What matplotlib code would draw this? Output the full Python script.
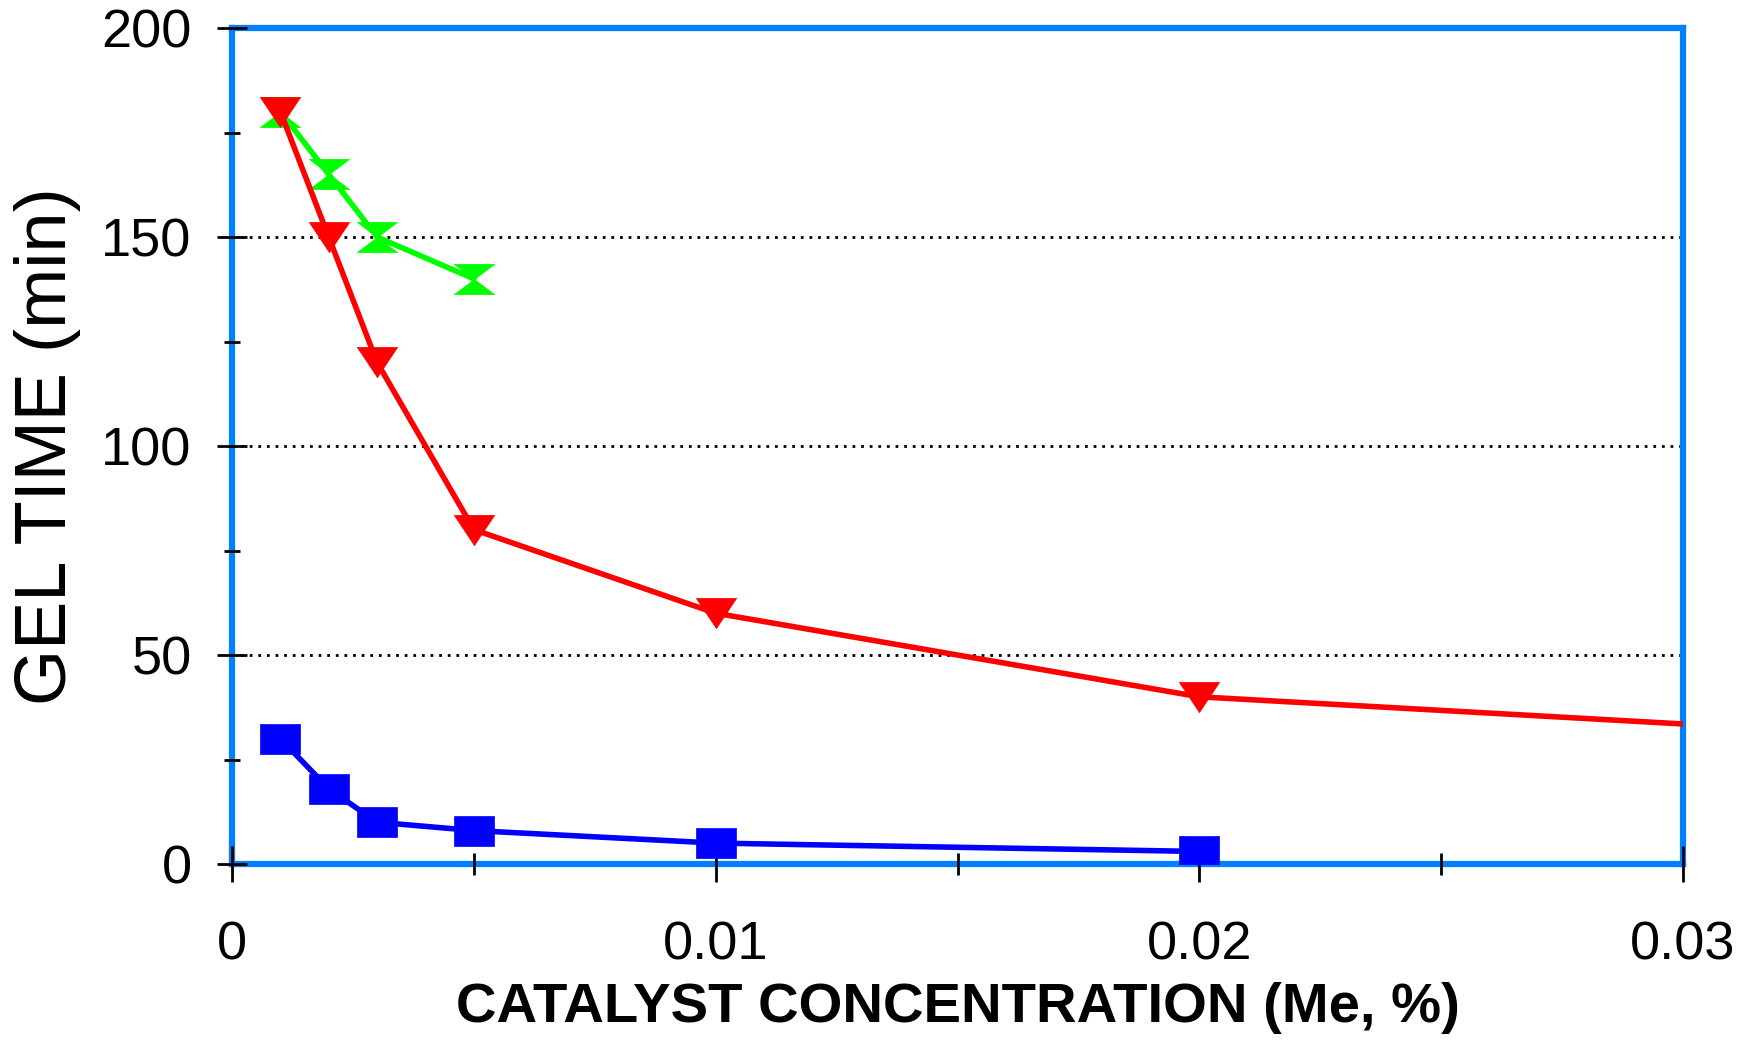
import numpy as np
import matplotlib
matplotlib.use("Agg")
import matplotlib.pyplot as plt
from matplotlib.path import Path
from matplotlib.ticker import MultipleLocator, FixedLocator, FixedFormatter

plt.rcParams['font.family'] = ['Liberation Sans', 'DejaVu Sans']

# data
conc_green = [0.001, 0.002, 0.003, 0.005]
gel_green = [180, 165, 150, 140]

conc_red = [0.001, 0.002, 0.003, 0.005, 0.01, 0.02, 0.04]
gel_red = [180, 150, 120, 80, 60, 40, 27]

conc_blue = [0.001, 0.002, 0.003, 0.005, 0.01, 0.02]
gel_blue = [30, 18, 10, 8, 5, 3]

xticks = [0, 0.01, 0.02, 0.03]
xtick_labels = ["0", "0.01", "0.02", "0.03"]
yticks = [0, 50, 100, 150, 200]

# wide, flat markers like the original
tri_down = Path([(-1, 0.75), (1, 0.75), (0, -0.75), (-1, 0.75)],
                [Path.MOVETO, Path.LINETO, Path.LINETO, Path.CLOSEPOLY])
hourglass = Path([(-1, 0.75), (1, 0.75), (-1, -0.75), (1, -0.75), (-1, 0.75)],
                 [Path.MOVETO, Path.LINETO, Path.LINETO, Path.LINETO, Path.CLOSEPOLY])
box = Path([(-1, 0.75), (1, 0.75), (1, -0.75), (-1, -0.75), (-1, 0.75)],
           [Path.MOVETO, Path.LINETO, Path.LINETO, Path.LINETO, Path.CLOSEPOLY])

fig = plt.figure(figsize=(17.5, 10.4), dpi=100)
ax = fig.add_axes([232 / 1750, 1 - 864 / 1040, (1683 - 232) / 1750, (864 - 28) / 1040])

spine_col = '#0080FF'
for s in ax.spines.values():
    s.set_color(spine_col)
    s.set_linewidth(4.5)
    s.set_zorder(2.5)

ax.set_xlim(0, 0.03)
ax.set_ylim(0, 200)

# dotted grid lines between the spines
for yv in yticks[1:-1]:
    ax.axhline(yv, color='black', linestyle=(0, (1, 2.1)), linewidth=2, zorder=2)

ms = 29
lw = 4
ax.plot(conc_green, gel_green, color='#00FF00', lw=lw, marker=hourglass, ms=ms,
        mec='#00FF00', mew=0.5, zorder=4)
ax.plot(conc_red, gel_red, color='#FF0000', lw=lw, marker=tri_down, ms=ms,
        mec='#FF0000', mew=0.5, zorder=5)
ax.plot(conc_blue, gel_blue, color='#0000FF', lw=lw, marker=box, ms=ms,
        mec='#0000FF', mew=0.5, zorder=4)

ax.xaxis.set_major_locator(FixedLocator(xticks))
ax.xaxis.set_major_formatter(FixedFormatter(xtick_labels))
ax.xaxis.set_minor_locator(MultipleLocator(0.005))
ax.yaxis.set_major_locator(FixedLocator(yticks))
ax.yaxis.set_minor_locator(MultipleLocator(25))

ax.xaxis.set_zorder(3)
ax.yaxis.set_zorder(3)

ax.tick_params(axis='x', which='major', direction='inout', length=26, width=2,
               color='black', labelsize=39, pad=28)
ax.tick_params(axis='x', which='minor', direction='inout', length=16, width=2, color='black')
ax.tick_params(axis='y', which='major', direction='inout', length=22, width=2,
               color='black', labelsize=39, pad=18)
ax.tick_params(axis='y', which='minor', direction='inout', length=12, width=2, color='black')

ax.set_xlabel("CATALYST CONCENTRATION (Me, %)", fontsize=40.5, fontweight='bold', labelpad=8)
ax.set_ylabel("GEL TIME (min)", fontsize=52, labelpad=15)

fig.savefig("out.png", dpi=100)
